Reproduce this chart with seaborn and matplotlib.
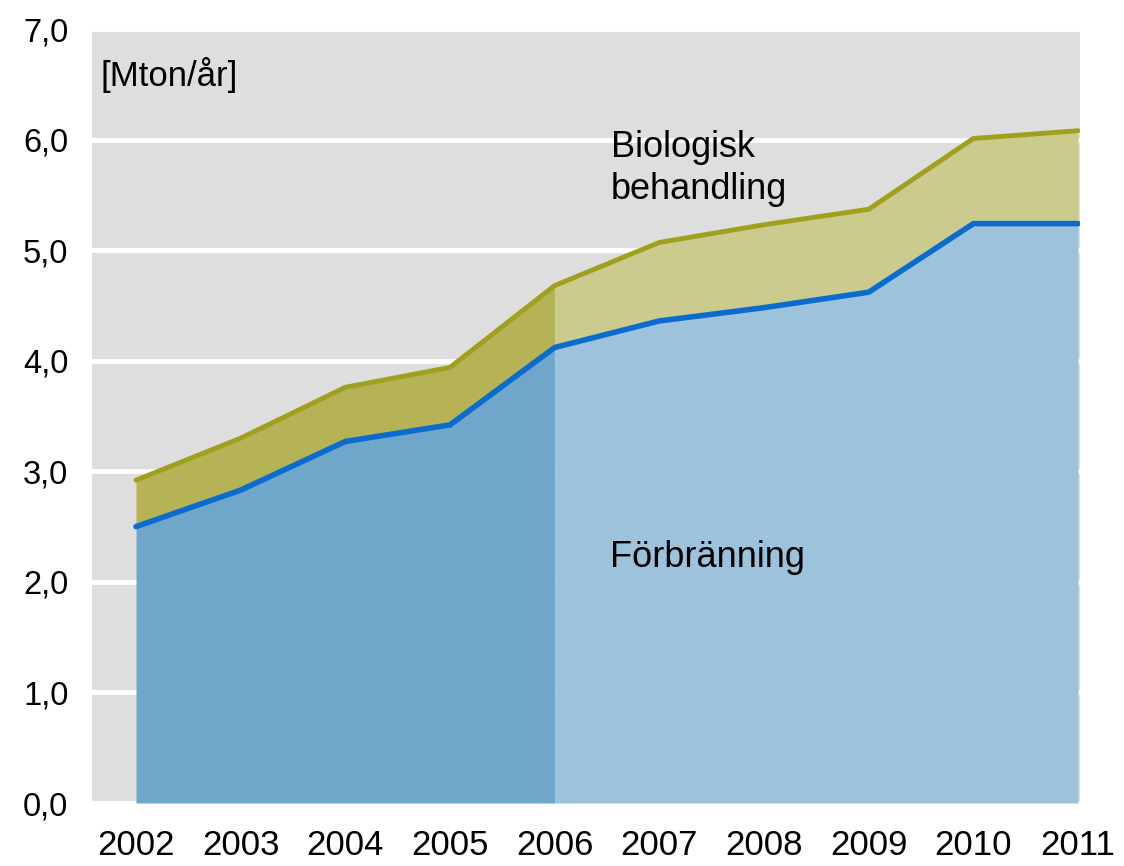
import numpy as np
import pandas as pd
import seaborn as sns
import matplotlib.pyplot as plt

years = [2002, 2003, 2004, 2005, 2006, 2007, 2008, 2009, 2010, 2011]
forbranning = [2.50, 2.83, 3.27, 3.42, 4.12, 4.36, 4.48, 4.62, 5.24, 5.24]
totalt = [2.92, 3.30, 3.76, 3.94, 4.68, 5.07, 5.23, 5.37, 6.01, 6.08]
yticks = [0, 1, 2, 3, 4, 5, 6, 7]
ytick_labels = ["0,0", "1,0", "2,0", "3,0", "4,0", "5,0", "6,0", "7,0"]

df = pd.DataFrame({"År": years, "Förbränning": forbranning, "Totalt": totalt})
split = years.index(2006)

sns.set_style("darkgrid", {"axes.facecolor": "#dedede", "grid.color": "white",
                           "text.color": "black", "xtick.color": "black",
                           "ytick.color": "black"})
plt.rcParams['font.family'] = ['Liberation Sans', 'DejaVu Sans']

fig = plt.figure(figsize=(11.24, 8.66), dpi=100)
ax = fig.add_axes([0.0819, 0.0727, 0.8791, 0.8938])

# darker shading up to 2006, lighter after
old = df.iloc[:split + 1]
new = df.iloc[split:]
ax.fill_between(old["År"], 0, old["Förbränning"], color="#6fa7cb", lw=0)
ax.fill_between(old["År"], old["Förbränning"], old["Totalt"], color="#b5b355", lw=0)
ax.fill_between(new["År"], 0, new["Förbränning"], color="#9dc3dc", lw=0)
ax.fill_between(new["År"], new["Förbränning"], new["Totalt"], color="#cccb8e", lw=0)

sns.lineplot(data=df, x="År", y="Totalt", color="#a0a01e", lw=3.5, ax=ax)
sns.lineplot(data=df, x="År", y="Förbränning", color="#0a6ccf", lw=4, ax=ax)

ax.set_xlim(2001.58, 2011.02)
ax.set_ylim(0, 7)
ax.set_yticks(yticks)
ax.set_yticklabels(ytick_labels, fontsize=23.5)
ax.set_xticks(years)
ax.set_xticklabels([str(y) for y in years], fontsize=25)
ax.grid(axis="y", color="white", linewidth=3.5)
ax.grid(axis="x", visible=False)
ax.set_axisbelow(True)
ax.tick_params(axis="y", pad=17, length=0)
ax.tick_params(axis="x", pad=19, length=0)
ax.set_xlabel("")
ax.set_ylabel("")
for s in ax.spines.values():
    s.set_visible(False)

ax.text(2001.66, 6.58, "[Mton/år]", fontsize=25, va="center", ha="left")
ax.text(2006.54, 5.74, "Biologisk\nbehandling", fontsize=26, va="center", ha="left", linespacing=1.27)
ax.text(2006.53, 2.22, "Förbränning", fontsize=26, va="center", ha="left")

plt.savefig("out.png", dpi=100)
